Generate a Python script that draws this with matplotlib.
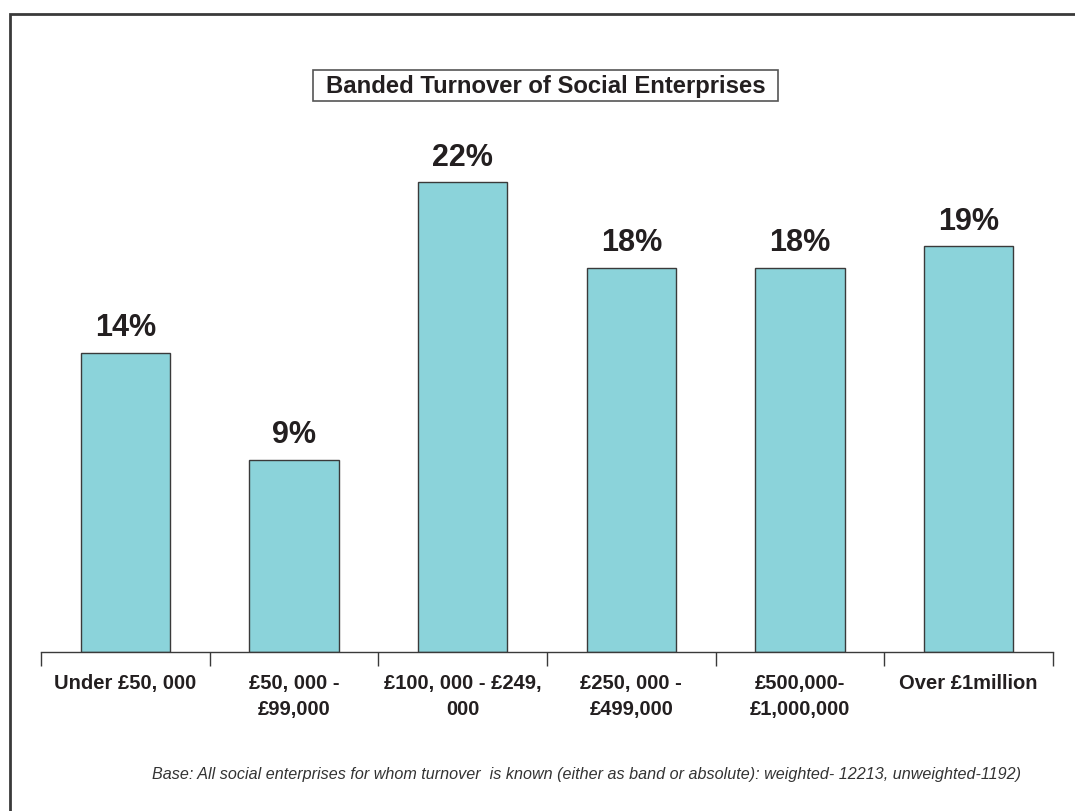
import matplotlib.pyplot as plt
import numpy as np
from matplotlib.patches import Rectangle

plt.rcParams['font.family'] = ['Liberation Sans', 'DejaVu Sans']

# Turnover bands and share of social enterprises (%)
bands = ['Under £50, 000', '£50, 000 -\n£99,000', '£100, 000 - £249,\n000',
         '£250, 000 -\n£499,000', '£500,000-\n£1,000,000', 'Over £1million']
shares = [14, 9, 22, 18, 18, 19]

W, H = 1075, 811
fig = plt.figure(figsize=(W / 100, H / 100), dpi=100)

# axes placed in pixel terms: x from 41 to 1053, zero line at y=652
left, right = 41 / W, 1053 / W
bottom = (H - 652) / H
top = (H - 139.6) / H
ax = fig.add_axes([left, bottom, right - left, top - bottom])

x = np.arange(len(bands))
bars = ax.bar(x, shares, width=0.53, color='#8bd3da', edgecolor='#3a3a3a', linewidth=1.0)
ax.set_xlim(-0.5, len(bands) - 0.5)
ax.set_ylim(0, 24)

for xi, v in zip(x, shares):
    ax.annotate(f'{v}%', (xi, v), xytext=(0, 7), textcoords='offset points',
                ha='center', va='bottom', fontsize=22, fontweight='bold', color='#231f20')

for side in ['top', 'right', 'left']:
    ax.spines[side].set_visible(False)
ax.spines['bottom'].set_color('#3a3a3a')
ax.spines['bottom'].set_linewidth(1.0)
ax.set_yticks([])

ax.set_xticks(x)
ax.set_xticklabels(bands, fontsize=14.5, fontweight='bold', color='#231f20', linespacing=1.42)
ax.tick_params(axis='x', which='major', length=0, pad=16)
ax.set_xticks(np.arange(-0.5, len(bands)), minor=True)
ax.tick_params(axis='x', which='minor', length=10, width=1.0, color='#3a3a3a', direction='out')

# title with its own box
fig.patches.append(Rectangle((313 / W, 1 - 101 / H), 465 / W, 31 / H, transform=fig.transFigure,
                             facecolor='white', edgecolor='#555555', linewidth=1.2))
fig.text(546 / W, 1 - 86 / H, 'Banded Turnover of Social Enterprises', ha='center', va='center',
         fontsize=17.2, fontweight='bold', color='#231f20')

# base note
fig.text(587 / W, 1 - 775 / H,
         'Base: All social enterprises for whom turnover  is known (either as band or absolute): '
         'weighted- 12213, unweighted-1192)',
         ha='center', va='center', fontsize=11.6, style='italic', color='#333333')

# outer frame running off the right and bottom edges
fig.patches.append(Rectangle((10 / W, -0.05), 1.1, 1 - 14 / H + 0.05, transform=fig.transFigure,
                             fill=False, edgecolor='#3a3a3a', linewidth=2.0, clip_on=False))

fig.savefig('out.png', dpi=100)
